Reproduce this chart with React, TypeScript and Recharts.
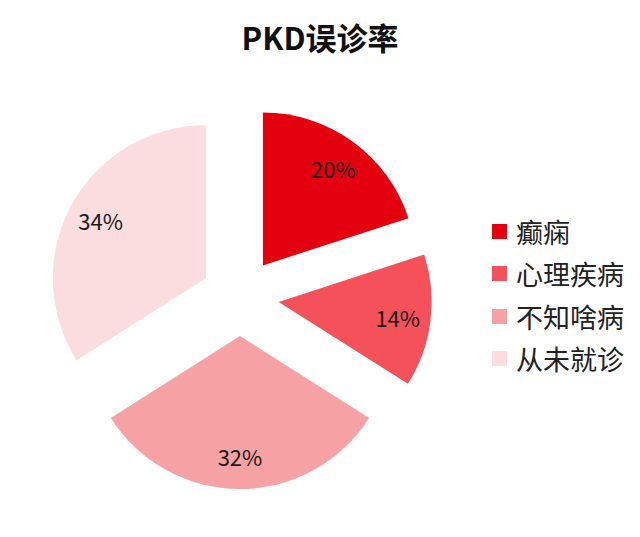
import { PieChart, Pie, Cell, Sector, Legend } from 'recharts';

const categories = ['癫痫', '心理疾病', '不知啥病', '从未就诊'];
const shares = [20, 14, 32, 34];
const colors = ['#e3000f', '#f4515a', '#f6a1a4', '#fbdcdf'];

const data = categories.map((name, i) => ({ name, value: shares[i] }));

const RADIAN = Math.PI / 180;
const EXPLODE = 39;
const LABEL_DIST = 120;
const FONT = '"Noto Sans CJK SC", "Noto Sans", sans-serif';

function offsetOf(startAngle: number, endAngle: number, dist: number) {
  const mid = (startAngle + endAngle) / 2;
  return { dx: dist * Math.cos(-mid * RADIAN), dy: dist * Math.sin(-mid * RADIAN) };
}

function ExplodedSector(props: any) {
  const { cx, cy, innerRadius, outerRadius, startAngle, endAngle, fill } = props;
  const { dx, dy } = offsetOf(startAngle, endAngle, EXPLODE);
  return (
    <Sector
      cx={cx + dx}
      cy={cy + dy}
      innerRadius={innerRadius}
      outerRadius={outerRadius}
      startAngle={startAngle}
      endAngle={endAngle}
      fill={fill}
      stroke="none"
    />
  );
}

function renderLabel(props: any) {
  const { cx, cy, startAngle, endAngle, value } = props;
  const { dx, dy } = offsetOf(startAngle, endAngle, EXPLODE + LABEL_DIST);
  return (
    <text
      x={cx + dx}
      y={cy + dy}
      textAnchor="middle"
      dominantBaseline="central"
      fill="#1a1a1a"
      fontSize={22}
      fontFamily={FONT}
    >
      {`${value}%`}
    </text>
  );
}

function LegendList() {
  return (
    <div style={{ fontFamily: FONT }}>
      {categories.map((name, i) => (
        <div key={name} style={{ display: 'flex', alignItems: 'center', height: 42.5 }}>
          <span style={{ width: 15, height: 15, background: colors[i], marginRight: 9 }} />
          <span style={{ fontSize: 27, color: '#222', lineHeight: 1 }}>{name}</span>
        </div>
      ))}
    </div>
  );
}

export default function App() {
  return (
    <div style={{ position: 'absolute', left: 0, top: 0, width: 640, height: 537, background: '#fff' }}>
      <div
        style={{
          position: 'absolute',
          left: 0,
          top: 14,
          width: 640,
          textAlign: 'center',
          fontFamily: FONT,
          fontWeight: 700,
          fontSize: 31,
          color: '#111',
        }}
      >
        PKD误诊率
      </div>
      <PieChart width={640} height={537} margin={{ top: 0, right: 0, bottom: 0, left: 0 }}>
        <Pie
          data={data}
          dataKey="value"
          nameKey="name"
          cx={240}
          cy={297}
          outerRadius={153}
          startAngle={90}
          endAngle={-270}
          shape={ExplodedSector}
          activeShape={ExplodedSector}
          inactiveShape={ExplodedSector}
          label={renderLabel}
          labelLine={false}
          isAnimationActive={false}
        >
          {data.map((d, i) => (
            <Cell key={d.name} fill={colors[i]} />
          ))}
        </Pie>
        <Legend
          layout="vertical"
          content={() => <LegendList />}
          wrapperStyle={{ left: 492, top: 210, width: 148 }}
        />
      </PieChart>
    </div>
  );
}
